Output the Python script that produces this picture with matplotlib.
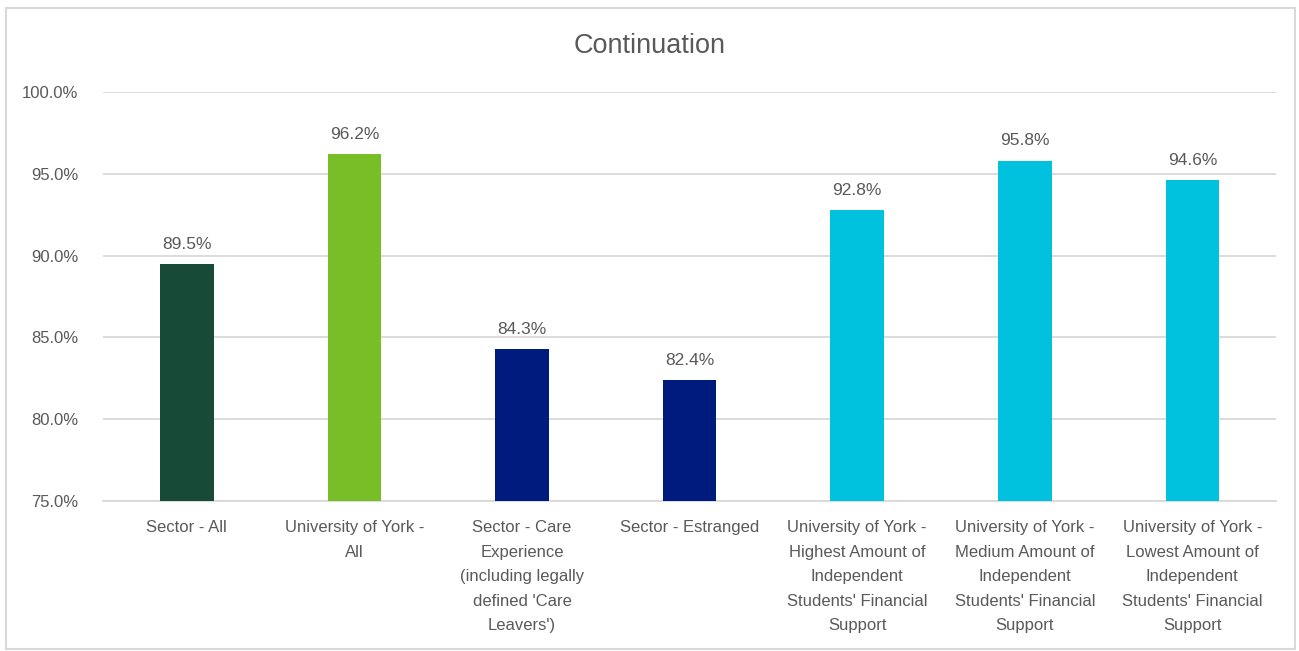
import matplotlib.pyplot as plt
from matplotlib.patches import Rectangle

categories = [
    "Sector - All",
    "University of York -\nAll",
    "Sector - Care\nExperience\n(including legally\ndefined 'Care\nLeavers')",
    "Sector - Estranged",
    "University of York -\nHighest Amount of\nIndependent\nStudents' Financial\nSupport",
    "University of York -\nMedium Amount of\nIndependent\nStudents' Financial\nSupport",
    "University of York -\nLowest Amount of\nIndependent\nStudents' Financial\nSupport",
]
values = [89.5, 96.2, 84.3, 82.4, 92.8, 95.8, 94.6]
colors = ["#174A37", "#78BE26", "#001B7E", "#001B7E", "#00C1DE", "#00C1DE", "#00C1DE"]
yticks = [75, 80, 85, 90, 95, 100]

grey = "#595959"
plt.rcParams["font.family"] = ["Liberation Sans", "DejaVu Sans"]

fig = plt.figure(figsize=(12.99, 6.51), dpi=100)
ax = fig.add_axes([0.0793, 0.2304, 0.9031, 0.6283])

x = range(len(categories))
bars = ax.bar(x, values, width=0.32, color=colors, zorder=3)
for b, v in zip(bars, values):
    ax.text(b.get_x() + b.get_width() / 2, v + 0.75, "%.1f%%" % v,
            ha="center", va="bottom", fontsize=12.5, color=grey)

ax.set_ylim(75, 100)
ax.set_xlim(-0.5, len(categories) - 0.5)
ax.set_yticks(yticks)
ax.set_yticklabels(["%.1f%%" % t for t in yticks], fontsize=12, color=grey)
ax.set_xticks(list(x))
ax.set_xticklabels(categories, fontsize=12, color=grey, linespacing=1.78, va="top")
ax.tick_params(axis="both", length=0)
ax.tick_params(axis="y", pad=18)
ax.tick_params(axis="x", pad=14)
ax.yaxis.grid(True, color="#D9D9D9", linewidth=1.3, zorder=0)
for s in ["top", "right", "left"]:
    ax.spines[s].set_visible(False)
ax.spines["bottom"].set_color("#D9D9D9")
ax.spines["bottom"].set_linewidth(1.3)

fig.text(0.5, 0.93, "Continuation", ha="center", va="center", fontsize=19.5, color=grey)
fig.patches.append(Rectangle((0.005, 0.003), 0.992, 0.985, transform=fig.transFigure,
                             fill=False, edgecolor="#D9D9D9", linewidth=1.5))

fig.savefig("out.png", dpi=100)
